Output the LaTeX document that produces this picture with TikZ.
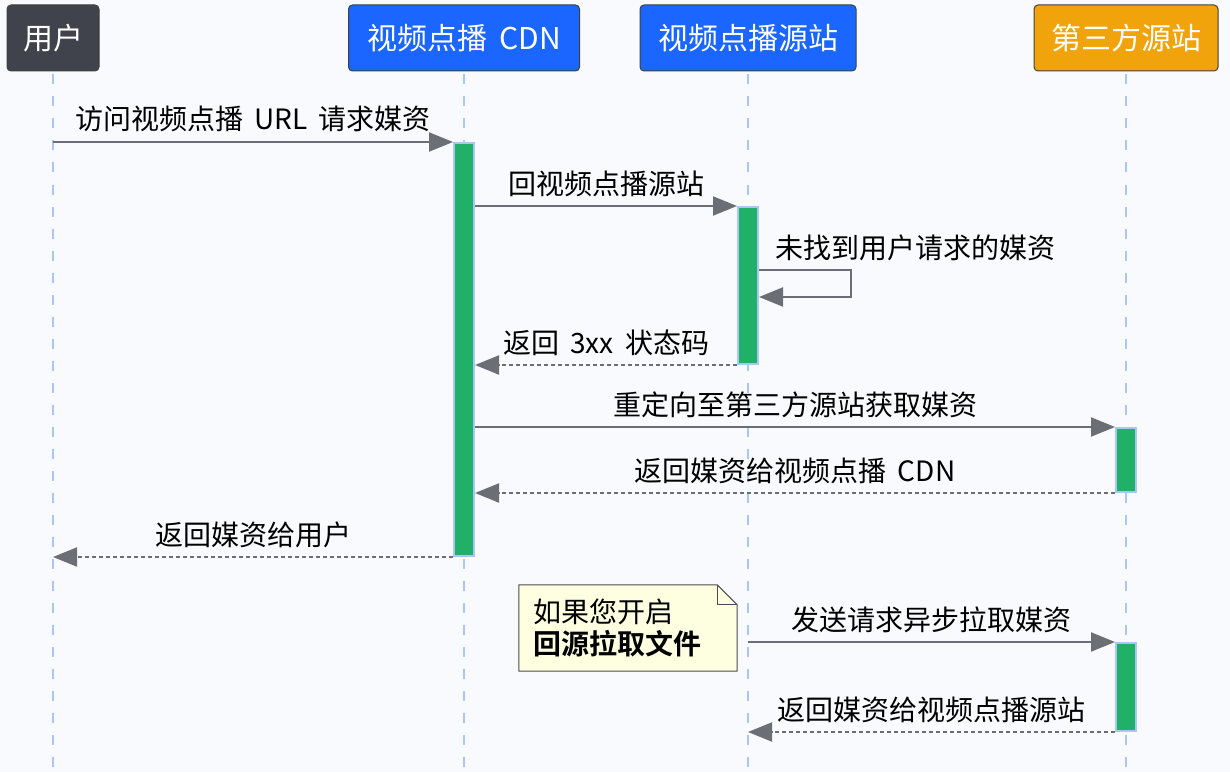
\documentclass[tikz,border=0pt]{standalone}
\usepackage{fontspec}
\setmainfont{Noto Sans CJK SC}[BoldFont={Noto Sans CJK SC Bold},WordSpace=1.8]
\usepackage{xcolor}
\usetikzlibrary{arrows.meta,positioning,calc}
\definecolor{sdark}{HTML}{40434B}
\definecolor{sblue}{HTML}{1A66FF}
\definecolor{sorange}{HTML}{F0A30A}
\definecolor{sgray}{HTML}{6B6E75}
\definecolor{sgreen}{HTML}{21B067}
\definecolor{slane}{HTML}{A9C6F5}
\definecolor{snote}{HTML}{FEFEE0}
\definecolor{sbg}{HTML}{F8FAFD}

\begin{document}
\begin{tikzpicture}[x=1pt,y=-1pt,
    actor/.style={draw=black!75,line width=1pt,rounded corners=4pt,text=white,
      font=\fontsize{30}{36}\selectfont,minimum height=66pt,inner sep=0pt},
    lifeline/.style={slane,line width=1.5pt,dash pattern=on 10pt off 12pt},
    bar/.style={draw=slane,fill=sgreen,line width=2pt,minimum width=20pt,
      inner sep=0pt,anchor=north},
    msg/.style={sgray,line width=2pt,-{Triangle[length=24pt,width=19pt]}},
    reply/.style={msg,dash pattern=on 4pt off 3pt},
    lbl/.style={midway,anchor=base,yshift=12pt,text=black,inner sep=0pt,
      font=\fontsize{28}{34}\selectfont}]

  % Background
  \fill[sbg] (0,0) rectangle (1230,772);
  \coordinate (bottom) at (0,772);

  % Participants
  \node[actor,fill=sdark,minimum width=92pt] (user) at (53,38) {用户};
  \node[actor,fill=sblue,minimum width=231pt] (cdn) at (464,38) {视频点播 CDN};
  \node[actor,fill=sblue,minimum width=216pt] (origin) at (748,38) {视频点播源站};
  \node[actor,fill=sorange,minimum width=184pt] (third) at (1126,38) {第三方源站};

  % Lifelines
  \foreach \p in {user,cdn,origin,third}
    \draw[lifeline] ($(\p.south)+(0,3)$) -- (\p.south |- bottom);

  % Activations
  \node[bar,minimum height=413pt] (cdnbar) at (cdn.south |- 0,142) {};
  \node[bar,minimum height=157pt] (originbar) at (origin.south |- 0,206) {};
  \node[bar,minimum height=64pt] (thirdbarA) at (third.south |- 0,427) {};
  \node[bar,minimum height=88pt] (thirdbarB) at (third.south |- 0,642) {};

  % Messages
  \draw[msg] (user |- cdnbar.north) -- (cdnbar.north west)
    node[lbl] {访问视频点播 URL 请求媒资};
  \draw[msg] (cdnbar.east |- originbar.north) -- (originbar.north west)
    node[lbl] {回视频点播源站};

  % Self call
  \coordinate (loop) at ($(originbar.north east)+(0,64)$);
  \draw[msg] (loop) -- ++(92,0) |- ($(loop)+(0,27)$);
  \node[anchor=base west,inner sep=0pt,font=\fontsize{28}{34}\selectfont]
    (looplbl) at ($(loop)+(16,-12)$) {未找到用户请求的媒资};

  \draw[reply] (originbar.south west) -- (cdnbar.east |- originbar.south)
    node[lbl] {返回 3xx 状态码};
  \draw[msg] (cdnbar.east |- thirdbarA.north) -- (thirdbarA.north west)
    node[lbl] {重定向至第三方源站获取媒资};
  \draw[reply] (thirdbarA.south west) -- (cdnbar.east |- thirdbarA.south)
    node[lbl] {返回媒资给视频点播 CDN};
  \draw[reply] (cdnbar.south west) -- (user |- cdnbar.south)
    node[lbl] {返回媒资给用户};

  % Note
  \node[minimum width=218pt,minimum height=86pt,inner sep=0pt] (note) at (628,628) {};
  \draw[black!70,line width=1pt,fill=snote]
    (note.north west) -- ($(note.north east)+(-20,0)$) -- ($(note.north east)+(0,20)$)
    -- (note.south east) -- (note.south west) -- cycle;
  \draw[black!70,line width=1pt]
    ($(note.north east)+(-20,0)$) |- ($(note.north east)+(0,20)$);
  \node[anchor=west,align=left,inner sep=0pt,font=\fontsize{28}{32}\selectfont]
    (notetext) at ($(note.west)+(14,0)$) {如果您开启\\\textbf{回源拉取文件}};

  \draw[msg] (origin |- thirdbarB.north) -- (thirdbarB.north west)
    node[lbl] {发送请求异步拉取媒资};
  \draw[reply] (thirdbarB.south west) -- (origin |- thirdbarB.south)
    node[lbl] {返回媒资给视频点播源站};
\end{tikzpicture}
\end{document}
